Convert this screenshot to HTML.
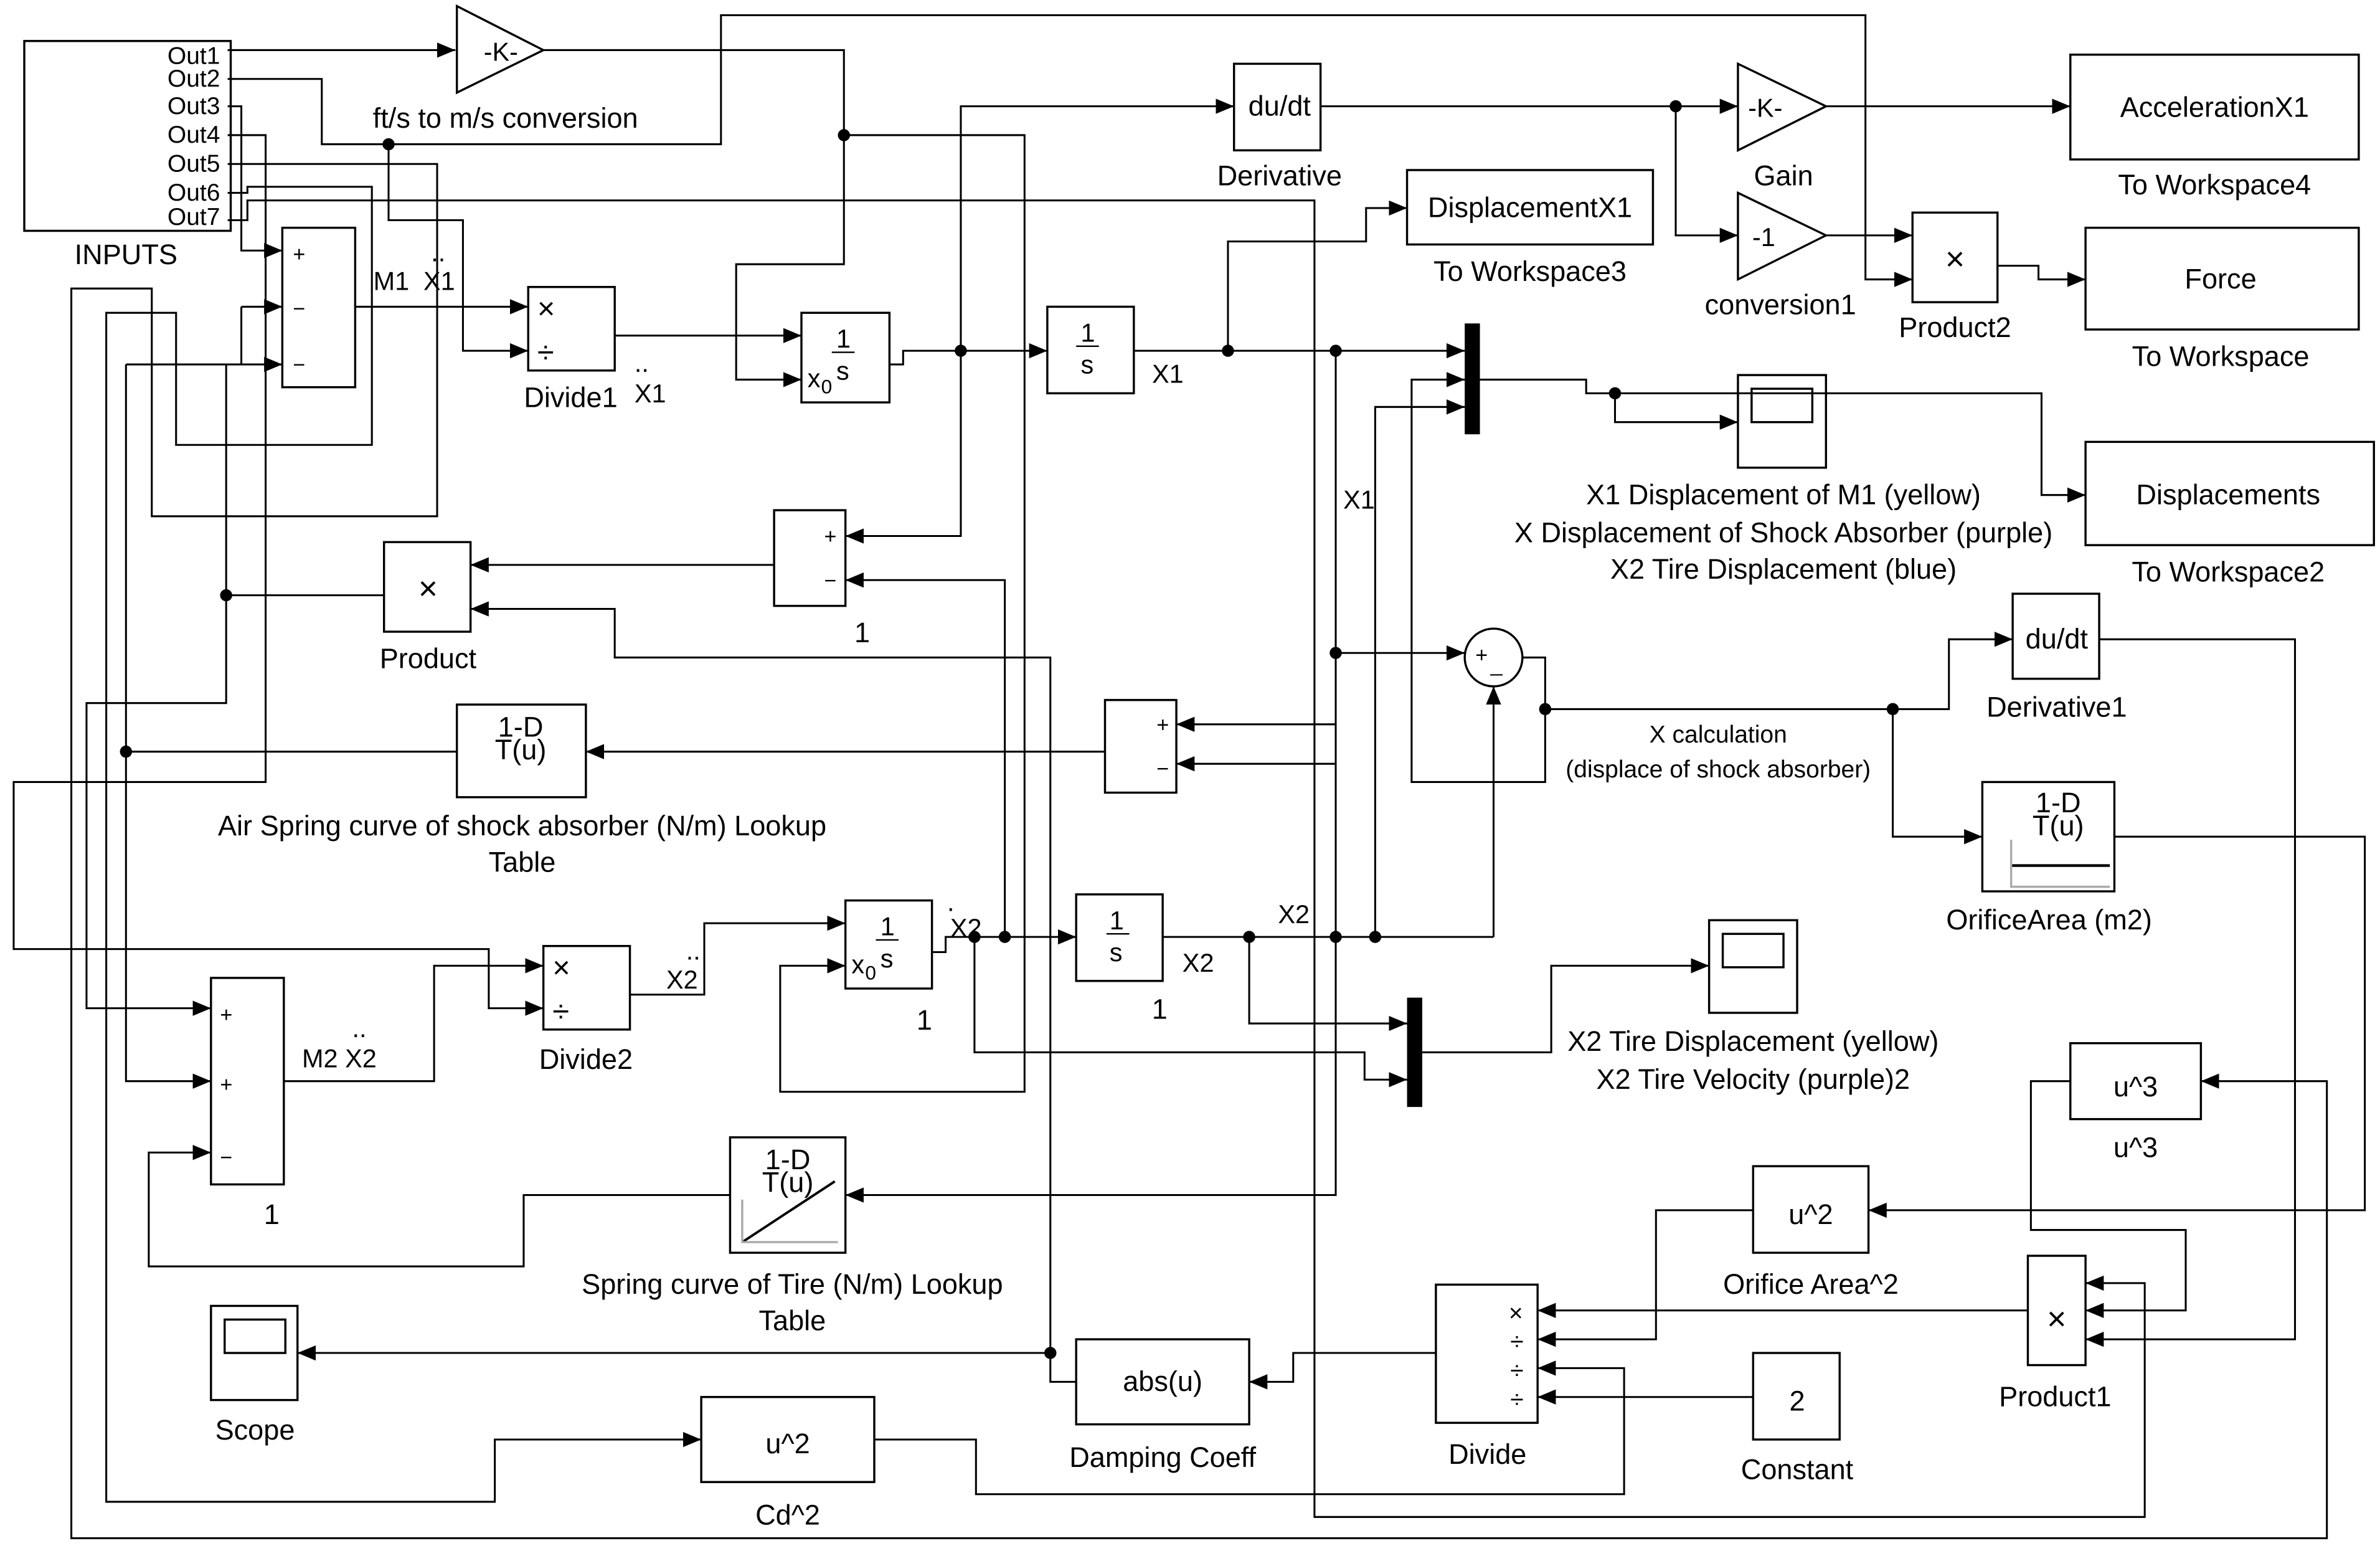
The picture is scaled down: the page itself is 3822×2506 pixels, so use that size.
<!DOCTYPE html>
<html><head><meta charset="utf-8"><style>
html,body{margin:0;padding:0;background:#fff;}
svg{display:block;}
text{font-family:"Liberation Sans",sans-serif;fill:#000;}
</style></head><body>
<svg width="3822" height="2506" viewBox="0 0 1568 1028" preserveAspectRatio="none" xmlns="http://www.w3.org/2000/svg">
<defs>
<marker id="a" markerUnits="userSpaceOnUse" markerWidth="14" markerHeight="12" refX="12" refY="5" orient="auto"><path d="M0,0 L12,5 L0,10 z" fill="#000"/></marker>
</defs>
<g fill="none" stroke="#000" stroke-width="1.4">
<rect x="16" y="27" width="136" height="125"/>
<rect x="186" y="150" width="48" height="105"/>
<rect x="348" y="189" width="57" height="55"/>
<rect x="528" y="206" width="58" height="59"/>
<rect x="690" y="202" width="57" height="57"/>
<rect x="813" y="42" width="57" height="57"/>
<rect x="927" y="112" width="162" height="49"/>
<rect x="1364" y="36" width="190" height="69"/>
<rect x="1374" y="150" width="180" height="67"/>
<rect x="1260" y="140" width="56" height="59"/>
<rect x="1145" y="247" width="58" height="61"/>
<rect x="1154" y="256" width="40" height="22"/>
<rect x="1374" y="291" width="190" height="68"/>
<rect x="510" y="336" width="47" height="63"/>
<rect x="253" y="357" width="57" height="59"/>
<circle cx="984" cy="433" r="19"/>
<rect x="1326" y="391" width="57" height="56"/>
<rect x="301" y="464" width="85" height="61"/>
<rect x="728" y="461" width="47" height="61"/>
<rect x="1306" y="515" width="87" height="72"/>
<rect x="358" y="623" width="57" height="55"/>
<rect x="557" y="593" width="57" height="58"/>
<rect x="709" y="589" width="57" height="57"/>
<rect x="1126" y="606" width="58" height="61"/>
<rect x="1135" y="615" width="40" height="22"/>
<rect x="139" y="644" width="48" height="136"/>
<rect x="1364" y="687" width="86" height="50"/>
<rect x="481" y="749" width="76" height="76"/>
<rect x="1155" y="768" width="76" height="57"/>
<rect x="1336" y="827" width="38" height="72"/>
<rect x="946" y="846" width="67" height="91"/>
<rect x="139" y="860" width="57" height="62"/>
<rect x="148" y="869" width="40" height="22"/>
<rect x="709" y="882" width="114" height="56"/>
<rect x="1155" y="891" width="57" height="57"/>
<rect x="462" y="920" width="114" height="56"/>
<path d="M301,4 L358,33 L301,61 Z"/>
<path d="M1145,42 L1203,70 L1145,99 Z"/>
<path d="M1145,127 L1203,155 L1145,184 Z"/>
<path d="M489,818 L550,778" stroke-width="1.6"/>
<path d="M489,790 V818 H552" stroke="#aaa"/>
<path d="M1325,570 H1390" stroke-width="1.8"/>
<path d="M1325,553 V584 H1390" stroke="#aaa"/>
</g>
<rect x="965" y="213" width="10" height="73" fill="#000"/>
<rect x="927" y="657" width="10" height="72" fill="#000"/>
<g fill="none" stroke="#000" stroke-width="1.25">
<path d="M150,33 H300" marker-end="url(#a)"/>
<path d="M358,33 H556 V174 H485 V250 H528" marker-end="url(#a)"/>
<path d="M556,89 H675 V719 H514 V636 H557" marker-end="url(#a)"/>
<path d="M150,52 H212 V95 H475 V10 H1229 V184 H1260" marker-end="url(#a)"/>
<path d="M256,95 V145 H305 V231 H348" marker-end="url(#a)"/>
<path d="M150,70 H159 V165 H186" marker-end="url(#a)"/>
<path d="M150,89 H175 V515 H9 V625 H322 V664 H358" marker-end="url(#a)"/>
<path d="M150,108 H288 V340 H100 V190 H47 V1013 H1533 V712 H1450" marker-end="url(#a)"/>
<path d="M150,127 H163 V123 H245 V293 H116 V206 H70 V989 H326 V948 H462" marker-end="url(#a)"/>
<path d="M150,145 H163 V132 H866 V999 H1413 V845 H1374" marker-end="url(#a)"/>
<path d="M159,202 H186" marker-end="url(#a)"/>
<path d="M159,202 V240"/>
<path d="M83,240 H186" marker-end="url(#a)"/>
<path d="M83,240 V712 H139" marker-end="url(#a)"/>
<path d="M149,240 V463 H57 V664 H139" marker-end="url(#a)"/>
<path d="M149,392 H253"/>
<path d="M234,202 H348" marker-end="url(#a)"/>
<path d="M405,221 H528" marker-end="url(#a)"/>
<path d="M586,240 H595 V231 H690" marker-end="url(#a)"/>
<path d="M633,231 V70 H813" marker-end="url(#a)"/>
<path d="M633,231 V353 H557" marker-end="url(#a)"/>
<path d="M662,617 V382 H557" marker-end="url(#a)"/>
<path d="M510,372 H310" marker-end="url(#a)"/>
<path d="M709,910 H692 V433 H405 V401 H310" marker-end="url(#a)"/>
<path d="M692,891 H196" marker-end="url(#a)"/>
<path d="M747,231 H965" marker-end="url(#a)"/>
<path d="M809,231 V159 H900 V137 H927" marker-end="url(#a)"/>
<path d="M880,231 V787 H557" marker-end="url(#a)"/>
<path d="M880,477 H775" marker-end="url(#a)"/>
<path d="M880,503 H775" marker-end="url(#a)"/>
<path d="M880,430 H965" marker-end="url(#a)"/>
<path d="M870,70 H1145" marker-end="url(#a)"/>
<path d="M1104,70 V155 H1145" marker-end="url(#a)"/>
<path d="M1203,70 H1364" marker-end="url(#a)"/>
<path d="M1203,155 H1260" marker-end="url(#a)"/>
<path d="M1316,175 H1343 V184 H1374" marker-end="url(#a)"/>
<path d="M975,250 H1045 V259 H1345 V326 H1374" marker-end="url(#a)"/>
<path d="M1064,259 V278 H1145" marker-end="url(#a)"/>
<path d="M906,617 V268 H965" marker-end="url(#a)"/>
<path d="M1003,433 H1018 V515 H930 V250 H965" marker-end="url(#a)"/>
<path d="M1018,467 H1284 V421 H1326" marker-end="url(#a)"/>
<path d="M1247,467 V551 H1306" marker-end="url(#a)"/>
<path d="M984,617 V452" marker-end="url(#a)"/>
<path d="M766,617 H984"/>
<path d="M823,617 V674 H927" marker-end="url(#a)"/>
<path d="M614,627 H623 V617 H709" marker-end="url(#a)"/>
<path d="M642,617 V693 H899 V711 H927" marker-end="url(#a)"/>
<path d="M937,693 H1022 V636 H1126" marker-end="url(#a)"/>
<path d="M1383,421 H1512 V882 H1374" marker-end="url(#a)"/>
<path d="M1393,551 H1558 V797 H1231" marker-end="url(#a)"/>
<path d="M1364,712 H1338 V810 H1440 V863 H1374" marker-end="url(#a)"/>
<path d="M1336,863 H1013" marker-end="url(#a)"/>
<path d="M1155,797 H1091 V882 H1013" marker-end="url(#a)"/>
<path d="M1155,920 H1013" marker-end="url(#a)"/>
<path d="M576,948 H643 V984 H1070 V901 H1013" marker-end="url(#a)"/>
<path d="M946,891 H852 V910 H823" marker-end="url(#a)"/>
<path d="M728,495 H386" marker-end="url(#a)"/>
<path d="M301,495 H83"/>
<path d="M187,712 H286 V636 H358" marker-end="url(#a)"/>
<path d="M415,655 H464 V608 H557" marker-end="url(#a)"/>
<path d="M481,787 H345 V834 H98 V759 H139" marker-end="url(#a)"/>
</g>
<g fill="#000">
<circle cx="256" cy="95" r="4"/><circle cx="556" cy="89" r="4"/><circle cx="149" cy="392" r="4"/>
<circle cx="83" cy="495" r="4"/><circle cx="633" cy="231" r="4"/><circle cx="809" cy="231" r="4"/>
<circle cx="880" cy="231" r="4"/><circle cx="880" cy="430" r="4"/><circle cx="1104" cy="70" r="4"/>
<circle cx="1064" cy="259" r="4"/><circle cx="1018" cy="467" r="4"/><circle cx="1247" cy="467" r="4"/>
<circle cx="823" cy="617" r="4"/><circle cx="880" cy="617" r="4"/><circle cx="906" cy="617" r="4"/>
<circle cx="642" cy="617" r="4"/><circle cx="662" cy="617" r="4"/><circle cx="692" cy="891" r="4"/>
</g>
<g font-size="16" text-anchor="end">
<text x="145" y="42">Out1</text><text x="145" y="57">Out2</text><text x="145" y="75">Out3</text>
<text x="145" y="94">Out4</text><text x="145" y="113">Out5</text><text x="145" y="132">Out6</text><text x="145" y="148">Out7</text>
</g>
<g font-size="18.5" text-anchor="middle">
<text x="83" y="174">INPUTS</text>
<text x="330" y="40" font-size="17">-K-</text>
<text x="333" y="84">ft/s to m/s conversion</text>
<text x="376" y="268">Divide1</text>
<text x="843" y="122">Derivative</text>
<text x="1008" y="143">DisplacementX1</text>
<text x="1008" y="185">To Workspace3</text>
<text x="1175" y="122">Gain</text>
<text x="1163" y="77" font-size="17">-K-</text>
<text x="1162" y="162" font-size="17">-1</text>
<text x="1173" y="207">conversion1</text>
<text x="1288" y="178" font-size="22">×</text>
<text x="1288" y="222">Product2</text>
<text x="1459" y="77">AccelerationX1</text>
<text x="1459" y="128">To Workspace4</text>
<text x="1463" y="190">Force</text>
<text x="1463" y="241">To Workspace</text>
<text x="1175" y="332">X1 Displacement of M1 (yellow)</text>
<text x="1175" y="357">X Displacement of Shock Absorber (purple)</text>
<text x="1175" y="381">X2 Tire Displacement (blue)</text>
<text x="1468" y="332">Displacements</text>
<text x="1468" y="383">To Workspace2</text>
<text x="282" y="395" font-size="22">×</text>
<text x="282" y="440">Product</text>
<text x="568" y="423">1</text>
<text x="1355" y="427">du/dt</text>
<text x="1355" y="472">Derivative1</text>
<text x="1132" y="489" font-size="16">X calculation</text>
<text x="1132" y="512" font-size="16">(displace of shock absorber)</text>
<text x="343" y="485">1-D</text>
<text x="343" y="500">T(u)</text>
<text x="344" y="550">Air Spring curve of shock absorber (N/m) Lookup</text>
<text x="344" y="574">Table</text>
<text x="1356" y="535">1-D</text>
<text x="1356" y="550">T(u)</text>
<text x="1350" y="612">OrificeArea (m2)</text>
<text x="386" y="704">Divide2</text>
<text x="609" y="678">1</text>
<text x="764" y="671">1</text>
<text x="1155" y="692">X2 Tire Displacement (yellow)</text>
<text x="1155" y="717">X2 Tire Velocity (purple)2</text>
<text x="179" y="806">1</text>
<text x="1407" y="722">u^3</text>
<text x="1407" y="762">u^3</text>
<text x="519" y="770">1-D</text>
<text x="519" y="785">T(u)</text>
<text x="522" y="852">Spring curve of Tire (N/m) Lookup</text>
<text x="522" y="876">Table</text>
<text x="1193" y="806">u^2</text>
<text x="1193" y="852">Orifice Area^2</text>
<text x="1355" y="876" font-size="22">×</text>
<text x="1354" y="926">Product1</text>
<text x="980" y="964">Divide</text>
<text x="168" y="948">Scope</text>
<text x="766" y="916">abs(u)</text>
<text x="766" y="966">Damping Coeff</text>
<text x="1184" y="929">2</text>
<text x="1184" y="974">Constant</text>
<text x="519" y="957">u^2</text>
<text x="519" y="1004">Cd^2</text>
<text x="843" y="76">du/dt</text>
</g>
<g font-size="17">
<text x="246" y="191">M1</text><text x="279" y="191">X1</text><text x="284" y="172">..</text>
<text x="418" y="265">X1</text><text x="418" y="245">..</text>
<text x="759" y="252">X1</text>
<text x="885" y="335">X1</text>
<text x="842" y="608">X2</text>
<text x="779" y="640">X2</text>
<text x="626" y="617">X2</text><text x="624" y="600">.</text>
<text x="439" y="651">X2</text><text x="452" y="632">..</text>
<text x="199" y="703">M2 X2</text><text x="232" y="683">..</text>
<text x="193" y="172" font-size="14">+</text><text x="193" y="208" font-size="14">−</text><text x="193" y="245" font-size="14">−</text>
<text x="145" y="673" font-size="14">+</text><text x="145" y="719" font-size="14">+</text><text x="145" y="767" font-size="14">−</text>
<text x="543" y="358" font-size="14">+</text><text x="543" y="387" font-size="14">−</text>
<text x="762" y="482" font-size="14">+</text><text x="762" y="511" font-size="14">−</text>
<text x="972" y="436" font-size="14">+</text><text x="982" y="442" font-size="14">_</text>
<text x="354" y="210" font-size="20">×</text><text x="354" y="239" font-size="20">÷</text>
<text x="364" y="644" font-size="20">×</text><text x="364" y="673" font-size="20">÷</text>
<text x="994" y="870" font-size="16">×</text><text x="995" y="889" font-size="16">÷</text><text x="995" y="908" font-size="16">÷</text><text x="995" y="927" font-size="16">÷</text>
<text x="551" y="229">1</text><text x="551" y="250">s</text><text x="532" y="255">x</text><text x="541" y="259" font-size="13">0</text>
<text x="712" y="225">1</text><text x="712" y="246">s</text>
<text x="580" y="616">1</text><text x="580" y="637">s</text><text x="561" y="641">x</text><text x="570" y="645" font-size="13">0</text>
<text x="731" y="612">1</text><text x="731" y="633">s</text>
</g>
<g stroke="#000" stroke-width="1"><path d="M548,232 H563 M709,228 H724 M577,619 H592 M729,615 H744"/></g>
</svg>
</body></html>
